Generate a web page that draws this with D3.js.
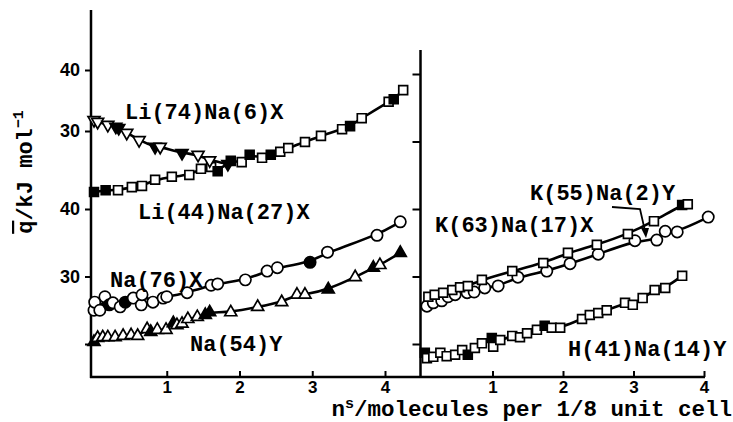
<!DOCTYPE html>
<html><head><meta charset="utf-8">
<script src="https://cdn.jsdelivr.net/npm/d3@7"></script>
<style>body{margin:0;background:#fff}svg{display:block}</style>
</head><body><svg id="c" width="733" height="422"></svg>
<script>
// ---------- DATA (n^s in molecules per 1/8 unit cell, q in kJ/mol) ----------
const xTicks = [1, 2, 3, 4];
const upperTickLabels = [30, 40];
const lowerTickLabels = [30, 40];

const li74N = [0.00,0.05,0.19,0.30,0.34,0.45,0.62,0.84,0.91,1.21,1.43,1.59,1.84];
const li74Q = [31.8,31.5,31.0,30.7,30.5,29.7,28.5,27.4,27.4,26.4,26.1,25.2,24.6];
const li74F = [0,0,0,1,1,0,0,1,0,1,0,0,1];

const li44N = [0.00,0.16,0.33,0.52,0.66,0.84,1.07,1.31,1.47,1.61,1.70,1.88,2.03,2.14,2.31,2.43,2.56,2.67,2.90,3.12,3.41,3.52,3.68,4.05,4.12,4.25];
const li44Q = [20.0,20.3,20.3,20.8,21.0,22.0,22.5,22.8,23.8,24.1,23.4,25.1,24.9,26.1,25.6,26.1,26.6,27.2,28.2,29.2,30.3,30.8,32.1,34.8,35.2,36.7];
const li44F = [1,1,0,0,0,0,0,0,0,0,1,1,0,1,0,1,0,0,0,0,0,1,0,0,1,0];

const na76N = [0.00,0.01,0.08,0.15,0.21,0.26,0.36,0.43,0.54,0.65,0.66,0.81,0.95,1.00,1.28,1.61,1.70,2.08,2.38,2.52,2.97,3.21,3.89,4.21];
const na76Q = [25.0,26.2,25.0,27.0,25.8,26.1,25.5,26.2,26.8,25.8,27.3,26.2,26.8,27.0,27.6,28.7,28.9,29.5,30.8,31.3,32.1,33.6,36.1,38.1];
const na76F = [0,0,0,0,1,0,0,1,0,0,0,0,0,0,0,0,0,0,0,0,1,0,0,0];

const na54N = [0.00,0.05,0.12,0.19,0.29,0.40,0.51,0.60,0.73,0.78,0.87,0.99,1.09,1.14,1.21,1.29,1.42,1.53,1.59,1.88,2.25,2.58,2.79,2.90,3.22,3.59,3.84,3.93,4.21];
const na54Q = [20.3,20.9,21.0,21.0,21.0,21.2,21.3,21.2,22.2,21.8,22.1,22.1,23.1,22.8,23.0,23.7,24.0,24.3,24.7,24.7,25.5,26.2,27.3,27.3,28.1,29.9,31.3,31.7,33.5];
const na54F = [1,0,0,0,0,0,0,0,0,1,0,0,1,0,0,0,0,1,1,0,0,0,0,0,1,0,1,0,1];

const k55N = [0.09,0.18,0.30,0.43,0.54,0.65,0.85,1.28,1.72,2.07,2.48,2.92,3.29,3.69,3.77];
const k55Q = [27.0,27.3,27.6,28.0,28.4,28.6,29.5,30.8,32.0,33.5,34.7,36.3,38.2,40.6,40.7];
const k55F = [0,0,0,0,0,0,0,0,0,0,0,0,0,1,0];

const k63N = [0.07,0.16,0.28,0.37,0.47,0.64,0.74,0.89,1.08,1.36,1.77,2.10,2.50,3.02,3.33,3.45,3.62,4.06];
const k63Q = [25.6,26.1,26.4,27.0,27.3,27.6,27.7,28.3,28.6,29.9,30.8,31.9,33.3,35.3,35.4,36.7,36.6,38.8];
const k63F = [0,0,0,0,0,0,0,0,0,0,0,0,0,0,0,0,0,0];

const h41N = [0.04,0.07,0.16,0.26,0.35,0.47,0.57,0.65,0.75,0.85,0.99,1.01,1.11,1.28,1.39,1.49,1.63,1.74,1.84,1.96,2.27,2.38,2.50,2.62,2.88,2.99,3.13,3.30,3.45,3.69];
const h41Q = [18.7,17.9,18.1,18.7,18.2,18.4,19.1,18.4,19.4,20.1,20.9,19.6,20.6,21.2,21.0,21.6,22.1,22.7,22.4,22.4,23.7,24.3,24.6,25.0,26.1,25.8,26.8,28.0,28.3,30.1];
const h41F = [1,0,0,0,0,0,0,1,0,0,1,0,0,0,0,0,0,1,0,0,0,0,0,0,0,0,0,0,0,0];

// ---------- LAYOUT ----------
const svg = d3.select('#c');
const xL = d3.scaleLinear().domain([0,4]).range([94,385]);
const xR = d3.scaleLinear().domain([0,4]).range([422,704]);
const yU = d3.scaleLinear().domain([30,40]).range([131,70]);
const yL = d3.scaleLinear().domain([20,40]).range([344,209]);
const mono = "'Liberation Mono','DejaVu Sans Mono',monospace";
const sans = "'Liberation Sans',Arial,sans-serif";
const axisY0 = 377, leftX = 91, divX = 420.5;

// frame lines
const frame = svg.append('g').attr('stroke','#000').attr('stroke-width',2.5).attr('fill','none');
frame.append('line').attr('x1',leftX).attr('x2',leftX).attr('y1',10).attr('y2',axisY0+1);
frame.append('line').attr('x1',leftX-1).attr('x2',xR(4)+1).attr('y1',axisY0).attr('y2',axisY0);
frame.append('line').attr('x1',divX).attr('x2',divX).attr('y1',50).attr('y2',axisY0);

function styleAxis(g, size){
  g.select('.domain').remove();
  g.selectAll('.tick line').attr('stroke','#000').attr('stroke-width',2);
  g.selectAll('.tick text').attr('fill','#000').style('font-family',sans)
    .style('font-size',size+'px').style('font-weight','bold');
}
const fmt = d3.format('d');
svg.append('g').attr('transform',`translate(${leftX},0)`)
  .call(d3.axisLeft(yU).tickValues(upperTickLabels).tickSize(6).tickPadding(5).tickFormat(fmt))
  .call(g=>styleAxis(g,18));
svg.append('g').attr('transform',`translate(${leftX},0)`)
  .call(d3.axisLeft(yL).tickValues([20].concat(lowerTickLabels)).tickSize(6).tickPadding(5)
    .tickFormat(d=>lowerTickLabels.includes(d)?fmt(d):''))
  .call(g=>styleAxis(g,18));
svg.append('g').attr('transform',`translate(${divX},0)`)
  .call(d3.axisLeft(yL).tickValues([20,30,40,50,60]).tickSize(8).tickFormat(''))
  .call(g=>styleAxis(g,18));
svg.append('g').attr('transform',`translate(0,${axisY0})`)
  .call(d3.axisBottom(xL).tickValues(xTicks).tickSize(-6).tickPadding(4).tickFormat(fmt))
  .call(g=>styleAxis(g,17));
svg.append('g').attr('transform',`translate(0,${axisY0})`)
  .call(d3.axisBottom(xR).tickValues(xTicks).tickSize(-6).tickPadding(4).tickFormat(fmt))
  .call(g=>styleAxis(g,17));

// ---------- SERIES ----------
function drawSeries(ns, qs, fs, xs, ys, type, size, rot){
  const pts = ns.map((n,i)=>({n, q:qs[i], f:fs[i]}));
  svg.append('path').datum(pts)
    .attr('d', d3.line().x(d=>xs(d.n)).y(d=>ys(d.q)).curve(d3.curveBasis))
    .attr('fill','none').attr('stroke','#000').attr('stroke-width',2.6);
  const sym = d3.symbol().type(type).size(size);
  svg.append('g').selectAll('path').data(pts).join('path')
    .attr('d', sym)
    .attr('transform', d=>`translate(${xs(d.n)},${ys(d.q)}) rotate(${rot})`)
    .attr('fill', d=>d.f? '#000':'#fff')
    .attr('stroke','#000').attr('stroke-width',1.7);
}
drawSeries(li44N, li44Q, li44F, xL, yU, d3.symbolSquare, 78, 0);
drawSeries(li74N, li74Q, li74F, xL, yU, d3.symbolTriangle, 62, 180);
drawSeries(na76N, na76Q, na76F, xL, yL, d3.symbolCircle, 100, 0);
drawSeries(na54N, na54Q, na54F, xL, yL, d3.symbolTriangle, 62, 0);
drawSeries(k63N, k63Q, k63F, xR, yL, d3.symbolCircle, 100, 0);
drawSeries(k55N, k55Q, k55F, xR, yL, d3.symbolSquare, 78, 0);
drawSeries(h41N, h41Q, h41F, xR, yL, d3.symbolSquare, 78, 0);

// ---------- LABELS ----------
const labels = [
  {t:'Li(74)Na(6)X', x:125, y:119},
  {t:'Li(44)Na(27)X', x:138, y:219},
  {t:'Na(76)X', x:110, y:287},
  {t:'Na(54)Y', x:190, y:351},
  {t:'K(55)Na(2)Y', x:530, y:200},
  {t:'K(63)Na(17)X', x:435, y:232},
  {t:'H(41)Na(14)Y', x:568, y:356}
];
svg.append('g').selectAll('text').data(labels).join('text')
  .attr('x',d=>d.x).attr('y',d=>d.y).text(d=>d.t)
  .style('font-family',mono).style('font-size','22px').style('font-weight','bold');

// leader line for K(55)Na(2)Y
svg.append('path').attr('d','M612,207 L640,209 L645,231')
  .attr('fill','none').attr('stroke','#000').attr('stroke-width',1.8);
svg.append('path').attr('d','M641,228 L649,228 L646,238 Z').attr('fill','#000');

// axis titles
const xt = svg.append('text').attr('x',732).attr('y',416).attr('text-anchor','end')
  .style('font-family',mono).style('font-size','22.5px').style('font-weight','bold');
xt.append('tspan').text('n');
xt.append('tspan').attr('dy',-8).style('font-size','15px').text('s');
xt.append('tspan').attr('dy',8).text('/molecules per 1/8 unit cell');

const yt = svg.append('text').attr('transform','translate(32,172) rotate(-90)')
  .attr('text-anchor','middle')
  .style('font-family',mono).style('font-size','22px').style('font-weight','bold');
yt.append('tspan').style('text-decoration','overline').text('q');
yt.append('tspan').text('/kJ mol');
yt.append('tspan').attr('dy',-9).style('font-size','15px').text('−1');
</script>
</body></html>
